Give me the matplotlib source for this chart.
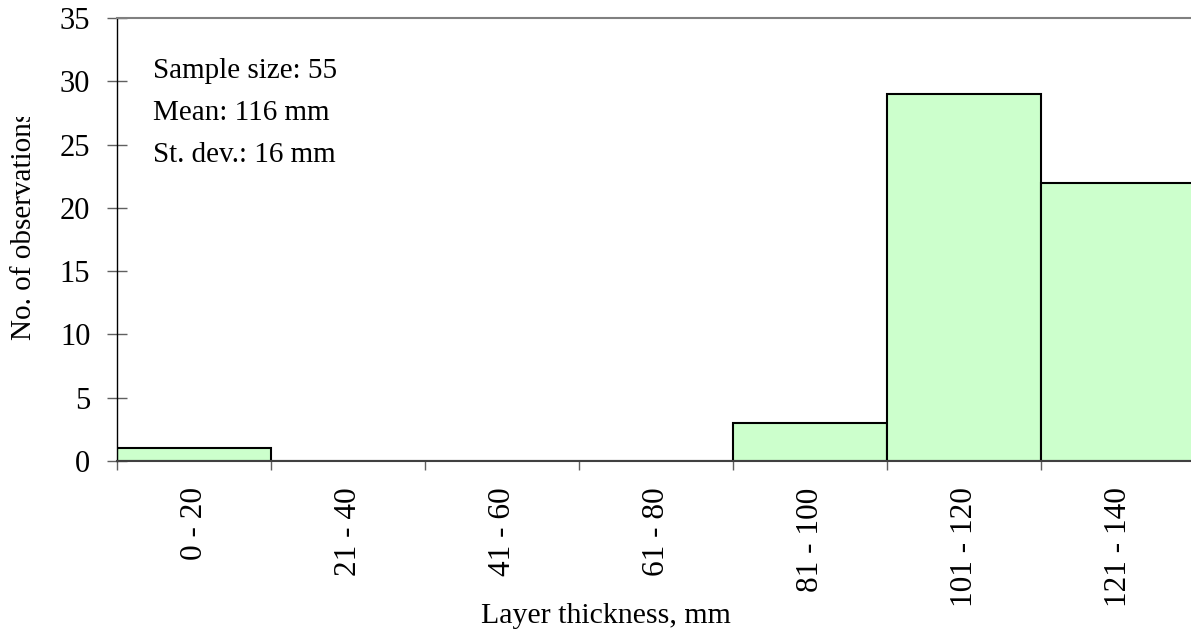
#!/usr/bin/env python3
import numpy as np
from matplotlib import pyplot as plt
from matplotlib.transforms import Bbox

categories = ["0 - 20", "21 - 40", "41 - 60", "61 - 80", "81 - 100", "101 - 120", "121 - 140"]
counts = [1, 0, 0, 0, 3, 29, 22]
yticks = [0, 5, 10, 15, 20, 25, 30, 35]
stats_lines = ["Sample size: 55", "Mean: 116 mm", "St. dev.: 16 mm"]

plt.rcParams["font.family"] = ["Liberation Serif", "DejaVu Serif"]

W, H = 1191, 631
fig = plt.figure(figsize=(W / 100, H / 100), dpi=100)
# plot area runs a little past the right edge of the picture
ax = fig.add_axes([117 / W, (H - 461) / H, 1078 / W, 443 / H])

x = np.arange(len(categories))
ax.bar(x, counts, width=1.0, color="#ccffcc", edgecolor="black", linewidth=1.5, zorder=2)

ax.set_xlim(-0.5, len(categories) - 0.5)
ax.set_ylim(0, 35)
ax.set_yticks(yticks)
ax.set_yticklabels([str(v) for v in yticks], fontsize=22)
ax.set_xticks(x)
ax.set_xticklabels(categories, rotation=90, fontsize=22.5, va="top", ha="center")
ax.tick_params(axis="x", which="major", length=0, pad=19)
ax.set_xticks(np.arange(len(categories) + 1) - 0.5, minor=True)
ax.tick_params(axis="x", which="minor", direction="out", length=6.5, width=1, color="#606060")
ax.tick_params(axis="y", direction="inout", length=14.5, width=1, color="#606060", pad=12)

ax.spines["right"].set_visible(False)
ax.spines["top"].set_color("#808080")
ax.spines["top"].set_linewidth(1.5)
ax.spines["bottom"].set_color("#404040")
ax.spines["bottom"].set_linewidth(1.5)
ax.spines["left"].set_color("black")
ax.spines["left"].set_linewidth(1)
ax.spines["bottom"].set_zorder(3)

for i, line in enumerate(stats_lines):
    fig.text(153 / W, 1 - (78 + 42 * i) / H, line, fontsize=21, ha="left", va="baseline")

fig.text(606 / W, 1 - 623 / H, "Layer thickness, mm", fontsize=21.5, ha="center", va="baseline")

# y label is cut off at the top in the original
ylab = fig.text(24 / W, 1 - 340 / H, "No. of observations", fontsize=21,
                rotation=90, ha="center", va="bottom")
ylab.set_clip_box(Bbox.from_extents(0, 0, W, H - 117))
ylab.set_clip_on(True)

fig.savefig("out.png", dpi=100)
